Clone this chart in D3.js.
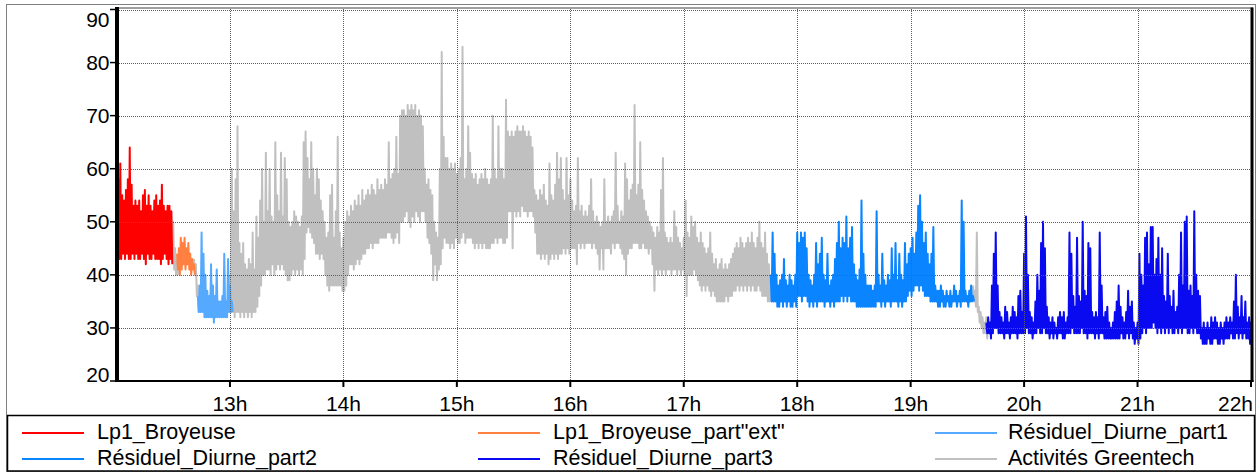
<!DOCTYPE html>
<html><head><meta charset="utf-8">
<script src="https://cdn.jsdelivr.net/npm/d3@7"></script>
<style>body{margin:0;background:#fff}svg{display:block}text{font-family:"Liberation Sans",Arial,sans-serif;fill:#000}</style>
</head><body><svg id="c" width="1259" height="472"></svg>
<script>
// ---------- DATA (minutes after 12:00, per-minute high / low levels in dB) ----------
const yTicks = [20, 30, 40, 50, 60, 70, 80, 90];
const xTickHours = [13, 14, 15, 16, 17, 18, 19, 20, 21, 22];
const xTickLabels = ["13h", "14h", "15h", "16h", "17h", "18h", "19h", "20h", "21h", "22h"];

const seriesNames = ["Lp1_Broyeuse", "Lp1_Broyeuse_part\"ext\"", "Résiduel_Diurne_part1",
  "Résiduel_Diurne_part2", "Résiduel_Diurne_part3", "Activités Greentech"];
const seriesColors = ["#ff0000", "#ff8040", "#55aaff", "#0a84ff", "#0a0af0", "#c0c0c0"];

const broyeuseStart = 0;
const broyeuseHi = [52,58,61,55,54,56,58,64,57,53,54,53,54,52,55,56,53,55,53,52,54,55,53,54,57,53,52,53,53,52];
const broyeuseLo = [43,43,43,44,43,44,43,43,44,43,44,43,43,44,43,42,44,43,43,44,43,43,43,42,43,44,43,42,43,42];

const extStart = 32;
const extHi = [44,45,47,46,47,45,46,44,43,42];
const extLo = [41,40,41,42,41,42,41,40,41,40];

const part1Start = 43;
const part1Hi = [36,38,48,44,40,37,36,42,38,36,41,35,35,36,44,35,43,38,35];
const part1Lo = [33,33,33,32,32,32,32,32,31,32,32,32,32,32,32,32,33,33,33];

const part2Start = 346;
const part2Hi = [40,48,44,40,38,39,40,43,39,38, 40,39,38,40,48,46,48,47,48,45,
  40,39,38,40,46,42,44,47,40,39, 44,38,39,40,43,46,50,45,47,46,
  51,45,47,49,42,40,39,41,54,44, 40,38,38,38,37,38,52,40,38,44,
  39,38,40,39,45,40,46,39,44,40, 39,46,42,44,45,47,44,48,53,55,
  50,46,48,44,42,44,49,38,37,37, 38,37,36,37,36,37,36,38,37,36,
  37,54,50,37,36,37,38,36];
const part2Lo = [35,35,35,34,34,35,34,35,34,35, 34,34,35,34,36,36,35,36,36,35,
  34,35,34,35,34,35,35,35,34,35, 35,34,35,34,35,35,35,36,35,36,
  35,36,35,35,35,34,34,34,34,34, 34,34,34,34,34,34,35,35,34,35,
  34,35,35,34,35,35,35,34,35,34, 35,35,36,37,36,37,38,38,37,38,
  37,36,36,36,35,35,35,35,34,34, 35,34,34,35,34,34,35,35,34,35,
  34,35,35,35,34,35,35,35];

const part3Start = 460;
const part3Hi = [31,32,31,38,44,48,38,33,32,31, 34,33,31,32,34,33,32,36,37,33,
  44,51,40,33,32,31,35,40,37,46, 50,45,34,32,31,32,31,30,32,33,
  32,33,31,32,48,44,36,34,47,36, 35,50,37,36,46,45,33,32,33,32,
  48,38,32,33,34,31,30,31,33,35, 38,34,32,31,33,37,34,35,31,30,
  31,44,40,38,47,48,42,49,49,40, 43,47,40,45,36,35,44,36,34,37,
  33,34,40,48,38,50,51,37,38,36, 52,40,37,36,30,31,30,31,30,32,
  31,32,31,30,31,30,31,32,31,32, 31,35,40,34,32,36,32,35,31,32,31];
const part3Lo = [29,29,28,29,30,30,29,29,29,28, 29,29,28,29,29,29,28,29,29,29,
  29,30,29,29,28,29,29,30,29,29, 30,29,29,28,29,28,29,28,29,29,
  28,28,29,29,29,30,29,29,29,29, 30,29,29,28,29,29,29,28,29,28,
  29,29,28,28,28,28,28,28,28,28, 28,29,28,28,29,28,29,28,27,28,
  27,28,29,30,29,30,30,30,31,30, 29,30,29,30,29,30,29,30,29,29,
  30,29,30,29,30,30,29,29,30,29, 30,29,29,28,27,27,27,28,27,27,
  28,28,27,27,28,27,28,28,28,29, 28,28,29,28,29,28,29,28,28,27,28];

// Activités Greentech: four visible stretches
const greenAStart = 29, greenAHi = [52,50,45,43], greenALo = [44,41,40,40];
const greenBStart = 41, greenBHi = [43,42,38,36], greenBLo = [40,36,33,33];
const greenCStart = 60;
const greenCHi = [40,60,52,58,68,46,44,46,42,41, 43,42,48,41,51,47,54,60,50,63,
  52,60,51,50,65,55,52,63,51,62, 58,50,49,50,52,51,50,49,51,65,
  67,62,58,65,60,55,60,58,54,52, 50,47,48,55,57,47,52,66,48,45,
  47,50,52,51,53,52,54,53,55,53, 56,54,55,56,55,57,56,55,58,56,
  57,56,58,57,65,58,59,60,66,59, 70,71,71,70,72,71,72,71,72,70,
  71,70,68,60,57,58,56,55,50,48, 47,60,82,66,62,62,60,61,60,61,
  59,60,62,83,58,60,68,63,59,58, 59,57,58,59,58,60,58,57,58,70,
  60,58,68,60,60,58,73,67,66,67, 66,67,68,67,67,68,67,66,67,66,
  64,56,55,54,56,55,57,54,53,61, 55,54,57,63,58,62,56,54,62,55,
  58,54,52,53,62,52,53,51,52,51, 53,58,52,50,51,50,49,50,58,50,
  51,50,51,52,63,53,50,52,51,61, 58,54,56,57,72,55,57,65,56,54,
  52,51,50,49,48,47,49,48,56,62, 48,47,46,47,46,52,49,47,46,45,
  47,54,48,47,51,49,50,47,46,48, 46,45,44,45,48,44,42,43,41,42,
  43,41,42,41,42,43,44,45,46,45, 47,46,45,46,47,46,48,46,45,47,
  50,46,45,48,44,42,40];
const greenCLo = [33,33,32,33,33,32,33,32,33,32, 33,32,33,33,34,36,38,40,40,41,
  41,40,42,40,41,42,41,42,41,40, 39,39,40,41,40,41,40,41,40,43,
  48,49,48,47,46,44,44,43,44,43, 40,38,37,38,38,38,38,38,38,37,
  37,38,40,42,42,41,42,43,42,43, 44,44,45,45,46,45,46,46,46,47,
  47,47,47,48,48,47,46,47,48,46, 50,50,51,52,50,49,51,50,52,51,
  50,52,52,50,47,46,44,39,42,39, 41,42,45,47,46,46,45,46,45,47,
  46,46,47,48,46,47,47,47,46,45, 46,45,46,45,46,45,45,45,46,46,
  47,46,47,47,46,46,47,52,52,45, 52,51,52,51,53,52,52,51,52,52,
  51,48,44,44,43,44,43,44,42,43, 44,43,44,43,44,44,45,44,45,44,
  45,45,45,42,46,45,46,45,46,46, 46,45,46,45,44,41,45,41,45,45,
  45,44,46,45,46,46,45,44,43,40, 44,45,45,46,46,46,45,45,46,45,
  45,44,45,42,37,41,40,41,40,41, 40,41,41,40,41,41,40,41,40,41,
  40,36,40,40,40,41,40,39,38,37, 38,37,38,37,36,37,36,35,35,35,
  35,35,36,35,36,36,37,37,38,37, 38,37,38,37,38,37,38,37,37,38,
  37,36,36,36,35,35,35];
const greenDStart = 453, greenDHi = [38,37,48,34,33,32,31,32,31], greenDLo = [35,34,33,31,30,29,29,28,29];

// ---------- CHART ----------
const base = new Date(2020, 0, 1, 12, 0, 0);
const tm = m => new Date(base.getTime() + m * 60000);
const svg = d3.select("#c");
const x = d3.scaleTime().domain([tm(0), tm(600)]).range([116.5, 1251]);
const y = d3.scaleLinear().domain([20, 90]).range([381, 9.5]);

function pts(start, hi, lo) {
  const out = [];
  hi.forEach((h, i) => { out.push({t: start + i, v: h}); out.push({t: start + i + 0.5, v: lo[i]}); });
  return out;
}
const line = d3.line().x(d => x(tm(d.t))).y(d => y(d.v));

// outer frame
svg.append("rect").attr("x", 6.5).attr("y", 4.5).attr("width", 1249).attr("height", 467)
  .attr("fill", "none").attr("stroke", "#808080").attr("stroke-width", 1);

svg.append("clipPath").attr("id", "clip").append("rect")
  .attr("x", 116.5).attr("y", 8).attr("width", 1251 - 116.5).attr("height", 373);
const plot = svg.append("g").attr("clip-path", "url(#clip)");

const drawn = [
  {d: pts(greenAStart, greenAHi, greenALo), c: 5},
  {d: pts(greenBStart, greenBHi, greenBLo), c: 5},
  {d: pts(greenCStart, greenCHi, greenCLo), c: 5},
  {d: pts(greenDStart, greenDHi, greenDLo), c: 5},
  {d: pts(broyeuseStart, broyeuseHi, broyeuseLo), c: 0},
  {d: pts(extStart, extHi, extLo), c: 1},
  {d: pts(part1Start, part1Hi, part1Lo), c: 2},
  {d: pts(part2Start, part2Hi, part2Lo), c: 3},
  {d: pts(part3Start, part3Hi, part3Lo), c: 4}
];
drawn.forEach(s => plot.append("path").datum(s.d).attr("d", line)
  .attr("fill", "none").attr("stroke", seriesColors[s.c]).attr("stroke-width", 2)
  .attr("stroke-linejoin", "round"));

// grid (drawn over data)
const grid = svg.append("g").attr("stroke", "#606060").attr("stroke-width", 1).attr("stroke-dasharray", "1,1");
yTicks.filter(v => v > 20).forEach(v => grid.append("line")
  .attr("x1", 119).attr("x2", 1250).attr("y1", Math.round(y(v)) + 0.5).attr("y2", Math.round(y(v)) + 0.5));
xTickHours.filter(h => h < 22).forEach(h => grid.append("line")
  .attr("x1", Math.round(x(tm((h - 12) * 60))) + 0.5).attr("x2", Math.round(x(tm((h - 12) * 60))) + 0.5)
  .attr("y1", 9).attr("y2", 380));

// axes frame
svg.append("line").attr("x1", 117).attr("x2", 1253).attr("y1", 8).attr("y2", 8).attr("stroke", "#404040").attr("stroke-width", 1);
svg.append("line").attr("x1", 117).attr("x2", 117).attr("y1", 7).attr("y2", 382).attr("stroke", "#000").attr("stroke-width", 4);
svg.append("line").attr("x1", 115).attr("x2", 1253.5).attr("y1", 381).attr("y2", 381).attr("stroke", "#000").attr("stroke-width", 2);
svg.append("line").attr("x1", 1252).attr("x2", 1252).attr("y1", 7.5).attr("y2", 382).attr("stroke", "#000").attr("stroke-width", 3);

// y axis ticks + labels
const ya = svg.append("g");
yTicks.forEach((v, i) => {
  const yy = y(v);
  ya.append("line").attr("x1", 110).attr("x2", 115).attr("y1", yy).attr("y2", yy).attr("stroke", "#000").attr("stroke-width", 1.5);
  let cy = yy;
  if (i === yTicks.length - 1) cy = 19;
  if (i === 0) cy = 374;
  ya.append("text").attr("x", 109.5).attr("y", cy).attr("dy", "0.36em").attr("text-anchor", "end")
    .attr("font-size", 21).text(v);
});

// x axis ticks + labels
const xa = svg.append("g");
xTickHours.forEach((h, i) => {
  const xx = x(tm((h - 12) * 60));
  xa.append("line").attr("x1", xx).attr("x2", xx).attr("y1", 382).attr("y2", 387).attr("stroke", "#000").attr("stroke-width", 2);
  const last = i === xTickHours.length - 1;
  xa.append("text").attr("x", last ? 1253 : xx).attr("y", 411).attr("text-anchor", last ? "end" : "middle")
    .attr("font-size", 21).text(xTickLabels[i]);
});

// legend
svg.append("rect").attr("x", 7.5).attr("y", 415.5).attr("width", 1247).attr("height", 55.5)
  .attr("fill", "#fff").attr("stroke", "#000").attr("stroke-width", 1.5);
const legCols = [[22, 97], [478, 553], [935, 1008]];
const legRows = [432, 458];
seriesNames.forEach((n, i) => {
  const col = legCols[i % 3], row = legRows[Math.floor(i / 3)];
  svg.append("line").attr("x1", col[0]).attr("x2", col[0] + 62).attr("y1", row + 1).attr("y2", row + 1)
    .attr("stroke", seriesColors[i]).attr("stroke-width", 2);
  svg.append("text").attr("x", col[1]).attr("y", row).attr("dy", "0.34em").attr("font-size", 21.5).text(n);
});
</script></body></html>
